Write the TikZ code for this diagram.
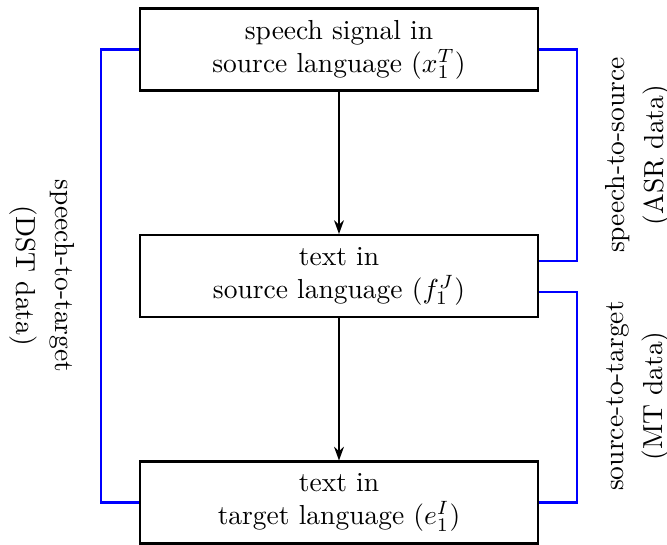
\documentclass[tikz,border=0pt]{standalone}
\usetikzlibrary{arrows.meta,calc}
\begin{document}
\begin{tikzpicture}[x=0.3636pt,y=-0.3636pt,
  stagebox/.style={draw=black, line width=0.75pt, minimum width=144.7pt,
    minimum height=29.8pt, align=center, inner sep=2pt},
  flow/.style={line width=0.75pt, -{Stealth[length=5pt,width=3.6pt]}},
  pairline/.style={draw=blue, line width=0.75pt},
  pairlabel/.style={align=center, inner sep=0pt}]
  \useasboundingbox (0,0) rectangle (667,545);

  % processing stages
  \node[stagebox] (speech) at (339,49.5) {speech signal in\\source language $(x_1^T)$};
  \node[stagebox] (src)    at (339,276)  {text in\\source language $(f_1^J)$};
  \node[stagebox] (tgt)    at (339,502.5) {text in\\target language $(e_1^I)$};

  \draw[flow] (speech) -- (src);
  \draw[flow] (src) -- (tgt);

  % columns of the pairing brackets
  \coordinate (rcol) at (577,0);
  \coordinate (lcol) at (101,0);

  % training-data pairings
  \coordinate (asrA) at (speech.east);
  \coordinate (asrB) at ([yshift=15*0.3636pt]src.east);
  \coordinate (mtA)  at ([yshift=-16*0.3636pt]src.east);
  \coordinate (mtB)  at (tgt.east);
  \draw[pairline] (asrA) -- (asrA -| rcol) -- (asrB -| rcol) -- (asrB);
  \draw[pairline] (mtA) -- (mtA -| rcol) -- (mtB -| rcol) -- (mtB);
  \draw[pairline] (speech.west) -- (speech.west -| lcol) -- (tgt.west -| lcol) -- (tgt.west);

  \node[pairlabel, rotate=90]  (asr) at (638,155) {speech-to-source\\[2pt](ASR data)};
  \node[pairlabel, rotate=90]  (mt)  at (638,396) {source-to-target\\[2pt](MT data)};
  \node[pairlabel, rotate=-90] (dst) at (42,276) {speech-to-target\\[2pt](DST data)};
\end{tikzpicture}
\end{document}
